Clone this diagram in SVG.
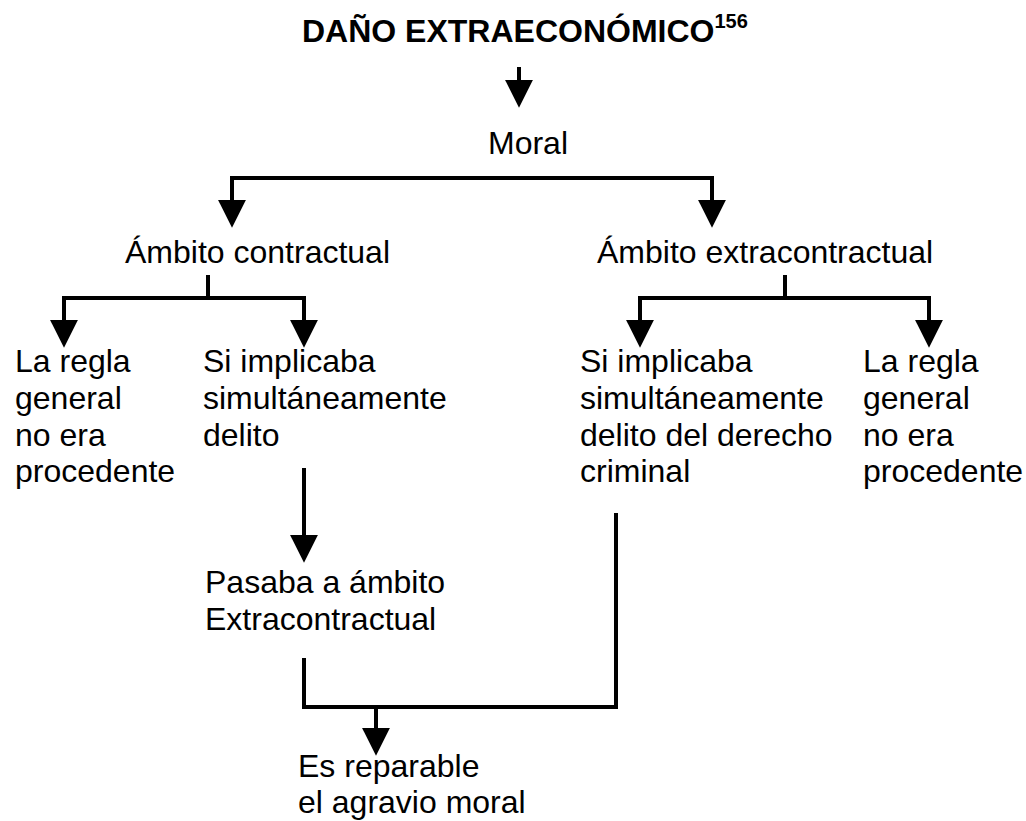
<svg xmlns="http://www.w3.org/2000/svg" width="1026" height="821" viewBox="0 0 1026 821">
<style>
text{font-family:"Liberation Sans",Arial,sans-serif;font-size:32px;fill:#000}
.title{font-weight:bold}
.sup{font-size:20px}
.c{fill:none;stroke:#000;stroke-width:4;stroke-linejoin:miter}
</style>
<defs>
<marker id="ah" markerUnits="userSpaceOnUse" markerWidth="28" markerHeight="28" viewBox="0 0 27 27" refX="5" refY="13.5" orient="auto">
<path d="M0,0 L27,13.5 L0,27 z" fill="#000"/>
</marker>
</defs>
<rect width="1026" height="821" fill="#fff"/>
<g id="connectors">
<path class="c" d="M519,67 V85" marker-end="url(#ah)"/>
<path class="c" d="M712,205 V178 H232 V205" marker-end="url(#ah)"/>
<path class="c" d="M712,178 V205" marker-end="url(#ah)"/>
<path class="c" d="M208,275 V298"/>
<path class="c" d="M304,325 V298 H64 V325" marker-end="url(#ah)"/>
<path class="c" d="M304,298 V325" marker-end="url(#ah)"/>
<path class="c" d="M785,275 V298"/>
<path class="c" d="M929,325 V298 H640 V325" marker-end="url(#ah)"/>
<path class="c" d="M929,298 V325" marker-end="url(#ah)"/>
<path class="c" d="M304,468 V540" marker-end="url(#ah)"/>
<path class="c" d="M304,658 V707 H616 V513"/>
<path class="c" d="M376,707 V733" marker-end="url(#ah)"/>
</g>
<g id="n-title"><text class="title" x="302" y="42">DAÑO EXTRAECONÓMICO<tspan class="sup" dy="-14">156</tspan></text></g>
<g id="n-moral"><text x="528" y="154" text-anchor="middle">Moral</text></g>
<g id="n-contractual"><text x="125" y="263">Ámbito contractual</text></g>
<g id="n-extracontractual"><text x="597" y="263">Ámbito extracontractual</text></g>
<g id="n-regla1"><text x="15" y="372">La regla</text><text x="15" y="409">general</text><text x="15" y="446">no era</text><text x="15" y="482">procedente</text></g>
<g id="n-implica1"><text x="203" y="372">Si implicaba</text><text x="203" y="409">simultáneamente</text><text x="203" y="446">delito</text></g>
<g id="n-implica2"><text x="580" y="372">Si implicaba</text><text x="580" y="409">simultáneamente</text><text x="580" y="446">delito del derecho</text><text x="580" y="482">criminal</text></g>
<g id="n-regla2"><text x="863" y="372">La regla</text><text x="863" y="409">general</text><text x="863" y="446">no era</text><text x="863" y="482">procedente</text></g>
<g id="n-pasaba"><text x="205" y="593">Pasaba a ámbito</text><text x="205" y="630">Extracontractual</text></g>
<g id="n-repara"><text x="298" y="777">Es reparable</text><text x="298" y="813">el agravio moral</text></g>
</svg>
